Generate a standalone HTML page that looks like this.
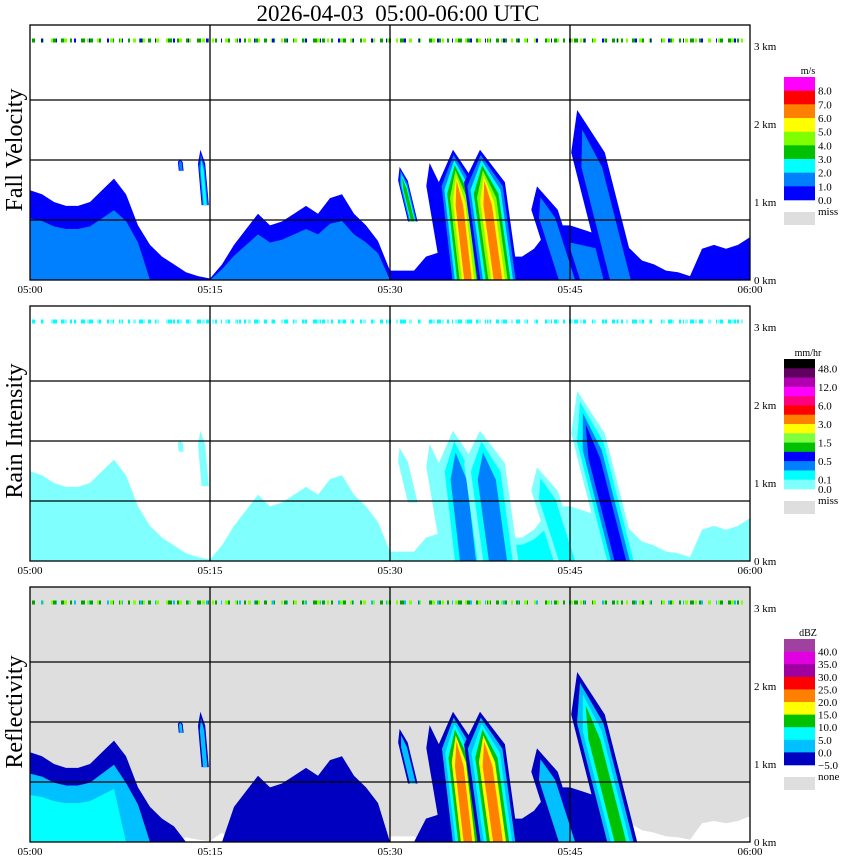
<!DOCTYPE html>
<html><head><meta charset="utf-8"><style>
html,body{margin:0;padding:0;background:#fff;}
svg{display:block;font-family:"Liberation Serif",serif;}
</style></head><body>
<svg id="chart" width="850" height="868" viewBox="0 0 850 868" xmlns="http://www.w3.org/2000/svg">
<text x="398" y="21" font-size="23" text-anchor="middle">2026-04-03&#160;&#160;05:00-06:00&#160;UTC</text>
<g id="panels"></g>
</svg>
<script>
// ---- data (per-minute, 05:00..06:00) ----
const lowTop = [1.15,1.1,1.0,0.95,0.95,1.0,1.15,1.3,1.1,0.7,0.45,0.3,0.2,0.1,0.05,0.02,0.2,0.45,0.65,0.85,0.7,0.75,0.85,0.95,0.85,1.05,1.1,0.85,0.7,0.5,0.12,0.12,0.12,0.3,0.35,0.35,0.3,0.3,0.3,0.3,0.3,0.3,0.4,0.6,0.7,0.7,0.65,0.6,0.6,0.5,0.4,0.25,0.2,0.12,0.1,0.05,0.4,0.45,0.4,0.45,0.55];
const lowVel = [1.2,1.2,1.2,1.2,1.2,1.2,1.2,1.2,1.2,1.2,0.8,0.8,0.8,0.8,0.8,0.8,1.6,1.6,1.6,1.6,1.6,1.6,1.6,1.6,1.6,1.6,1.6,1.6,1.6,1.6,0.8,0.8,0.8,0.8,0.8,0.8,0.8,0.8,0.8,0.8,0.8,0.8,0.8,0.8,0.8,1.2,1.2,1.2,1.2,0.8,0.8,0.8,0.8,0.8,0.8,0.8,0.8,0.8,0.8,0.8,0.8];
const lowRain = [0.05,0.05,0.05,0.05,0.05,0.05,0.05,0.05,0.05,0.05,0.05,0.05,0.05,0.05,0.05,0.05,0.05,0.05,0.05,0.05,0.05,0.05,0.05,0.05,0.05,0.05,0.05,0.05,0.05,0.05,0.05,0.05,0.05,0.05,0.05,0.05,0.1,0.1,0.1,0.1,0.1,0.1,0.1,0.1,0.1,0.05,0.05,0.05,0.05,0.05,0.05,0.05,0.05,0.05,0.05,0.05,0.05,0.05,0.05,0.05,0.05];
const lowRefl = [8,8,8,8,8,8,8,8,3,3,-3,-3,-3,-8,-8,-8,-8,-3,-3,-3,-2,-2,-2,-2,-2,-2,-2,-2,-2,-2,-8,-8,-8,-3,-3,-3,-2,-2,-2,-2,-2,-2,-2,-2,-2,-2,-2,-2,-2,-8,-8,-8,-8,-8,-8,-8,-6,-6,-6,-6,-6];
// streaks: minute at top, km at top, minute at base, km at base, width (min)
const streakTopMin = [30.8,33.3,35.25,37.5,42.25,45.6,14.2,12.5];
const streakTopKm  = [1.45,1.5,1.67,1.67,1.2,2.18,1.67,1.55];
const streakBotMin = [31.9,34.6,36.5,39.0,44.75,49.2,14.6,12.6];
const streakBotKm  = [0.75,0.32,0,0,0,0,0.96,1.4];
const streakWidth  = [0.8,1.2,3.0,3.4,2.2,2.8,0.6,0.4];
const streakVel    = [3.5,0.8,6.8,6.5,1.5,1.8,2.5,1.5];
const streakRain   = [0.05,0.05,0.4,0.4,0.2,0.6,0.05,0.05];
const streakRefl   = [3,-3,22,20,3,14,2,1];
const xTicks = ["05:00","05:15","05:30","05:45","06:00"];
const kmTicks = ["0 km","1 km","2 km","3 km"];

const velThr = [0,1,2,3,4,5,6,7,8], velCol = ['#0000ff','#0080ff','#00ffff','#00c000','#80ff00','#ffff00','#ff8000','#ff0000','#ff00ff'];
const rainThr = [0,0.1,0.25,0.5,1,1.5,2,3,4.5,6,9,12,24,48], rainCol = ['#80ffff','#00ffff','#0080ff','#0000ff','#00c000','#80ff40','#ffff00','#ff8000','#ff0000','#ff0080','#ff00ff','#b000b0','#600060','#000000'];
const reflThr = [-5,0,5,10,15,20,25,30,35,40], reflCol = ['#0000c0','#00c0ff','#00ffff','#00c000','#ffff00','#ff8000','#ff0000','#a000a0','#e000e0','#a040a0'];

const NS = 'http://www.w3.org/2000/svg';
const X0 = 30, X1 = 750, PXMIN = 12, PXKM = 78;
const X = m => X0 + m * PXMIN;
function mk(tag, attrs, parent){ const e = document.createElementNS(NS, tag); for (const k in attrs) e.setAttribute(k, attrs[k]); parent.appendChild(e); return e; }

const panels = [
  {name:'fall-velocity', title:'Fall Velocity', top:25, bg:'#ffffff', base:null, thr:velThr, col:velCol, low:lowVel, sv:streakVel, flick:['#00a000','#80ff00','#0000ff'],
   unit:'m/s', legTop:77, legH:123, legLabels:['8.0','7.0','6.0','5.0','4.0','3.0','2.0','1.0','0.0'], legRows:velCol.slice().reverse(), missLabel:'miss'},
  {name:'rain-intensity', title:'Rain Intensity', top:306, bg:'#ffffff', base:null, thr:rainThr, col:rainCol, low:lowRain, sv:streakRain, flick:['#00ffff','#80ffff','#00ffff'],
   unit:'mm/hr', legTop:359, legH:130, missLabel:'miss'},
  {name:'reflectivity', title:'Reflectivity', top:587, bg:'#dedede', base:'#ffffff', thr:reflThr, col:reflCol, low:lowRefl, sv:streakRefl, flick:['#00a000','#80ff00','#00c0ff'],
   unit:'dBZ', legTop:639, legH:126, legLabels:['40.0','35.0','30.0','25.0','20.0','15.0','10.0','5.0','0.0','\u22125.0'], legRows:reflCol.slice().reverse(), missLabel:'none'}
];
const root = document.getElementById('panels');

panels.forEach((p, pi) => {
  const g = mk('g', {}, root);
  
  
  const G = p.top + 255;
  const Y = h => G - h * PXKM;
  const cid = 'clip' + pi;
  const cp = mk('clipPath', {id: cid}, g);
  mk('rect', {x: X0, y: p.top, width: X1 - X0, height: 255}, cp);
  const bg = mk('rect', {x: X0, y: p.top, width: X1 - X0, height: 255, fill: p.bg}, g);
  
  
  const dg = mk('g', {'clip-path': 'url(#' + cid + ')'}, g);
  
  
  const nOf = v => p.thr.filter(t => v >= t).length;
  // low-level echo
  if (p.base) {
    let pts = [];
    lowTop.forEach((h, i) => { const hh = p.low[i] < p.thr[0] ? h * 0.6 : 0; pts.push(X(i) + ',' + Y(hh)); });
    const poly = mk('polygon', {points: X(0) + ',' + G + ' ' + pts.join(' ') + ' ' + X(60) + ',' + G, fill: p.base}, dg);
    
    
  }
  const maxN = Math.max(...p.low.map(nOf));
  for (let k = 0; k < maxN; k++) {
    let pts = [];
    lowTop.forEach((h, i) => { const n = nOf(p.low[i]); const f = k < n ? 1 - k / (n + 1.2) : 0; pts.push(X(i) + ',' + Y(h * f)); });
    const poly = mk('polygon', {points: X(0) + ',' + G + ' ' + pts.join(' ') + ' ' + X(60) + ',' + G, fill: p.col[k]}, dg);
    
    
  }
  // streaks
  streakTopMin.forEach((tm, s) => {
    const v = p.sv[s];
    let n = nOf(v);
    const xt = X(tm), yt = Y(streakTopKm[s]), xb = X(streakBotMin[s]), yb = Y(streakBotKm[s]);
    const L = yb - yt;
    if (n === 0 && p.base) {
      const hw = streakWidth[s] * PXMIN / 2;
      const poly = mk('polygon', {points: [[xt,yt],[xt+hw,yt+0.25*L],[xb+hw,yb],[xb-hw,yb],[xt-hw,yt+0.25*L]].map(q => q.join(',')).join(' '), fill: p.base}, dg);
      
      
    }
    for (let k = 0; k < n; k++) {
      const f = 1 - k / (n + 0.6);
      const xtk = xt + (1 - f) * (xb - xt) * 0.3, ytk = yt + (1 - f) * L * 0.3;
      const hw = streakWidth[s] * PXMIN / 2 * f;
      const tp = 0.25 * (yb - ytk);
      const xm = xtk + (xb - xtk) * 0.25;
      const poly = mk('polygon', {points: [[xtk,ytk],[xm+hw,ytk+tp],[xb+hw,yb],[xb-hw,yb],[xm-hw,ytk+tp]].map(q => q.join(',')).join(' '), fill: p.col[k]}, dg);
      
      
    }
  });
  // flicker row near 3 km
  const fy = Y(3.07);
  [['3 6 2 9 4 5', 0], ['2 11 3 7', 4], ['1 17 2 13', 9]].forEach((d, j) => {
    const l = mk('line', {x1: X0 + 2, x2: X1 - 2, y1: fy, y2: fy, stroke: p.flick[j], 'stroke-width': 4, 'stroke-dasharray': d[0], 'stroke-dashoffset': d[1]}, dg);
    
    
  });
  // grid
  [1, 2, 3].forEach(i => {
    const vl = mk('line', {x1: X(i * 15), x2: X(i * 15), y1: p.top, y2: G, stroke: '#000', 'stroke-width': 1.3}, g);
    
    
    const hl = mk('line', {x1: X0, x2: X1, y1: G - 60 * i, y2: G - 60 * i, stroke: '#000', 'stroke-width': 1.3}, g);
    
    
  });
  const fr = mk('rect', {x: X0, y: p.top, width: X1 - X0, height: 255, fill: 'none', stroke: '#000', 'stroke-width': 1.3}, g);
  
  
  // axis labels
  xTicks.forEach((t, i) => {
    const tx = mk('text', {x: X(i * 15), y: G + 13, 'font-size': 11, 'text-anchor': 'middle'}, g);
    tx.textContent = t;
    
    
  });
  kmTicks.forEach((t, i) => {
    const tx = mk('text', {x: 754, y: Y(i) + 4, 'font-size': 11}, g);
    tx.textContent = t;
    
    
  });
  const yt = mk('text', {x: 0, y: 0, 'font-size': 24, 'text-anchor': 'middle', transform: 'translate(22,' + (p.top + 125) + ') rotate(-90)'}, g);
  yt.textContent = p.title;
  
  
  // legend
  const lg = mk('g', {}, g);
  
  
  const ut = mk('text', {x: 808, y: p.legTop - 3, 'font-size': 10, 'text-anchor': 'middle'}, lg);
  ut.textContent = p.unit;
  
  
  const rows = pi === 1 ? rainCol.slice().reverse() : p.legRows;
  const rh = p.legH / rows.length;
  rows.forEach((c, r) => {
    const rr = mk('rect', {x: 784, y: p.legTop + r * rh, width: 31, height: rh + 0.3, fill: c}, lg);
    
    
  });
  let labs;
  if (pi === 1) labs = [['48.0',1],['12.0',3],['6.0',5],['3.0',7],['1.5',9],['0.5',11],['0.1',13],['0.0',14]];
  else labs = p.legLabels.map((l, r) => [l, r + 1]);
  labs.forEach(([l, b]) => {
    const tx = mk('text', {x: 818, y: p.legTop + b * rh + 4, 'font-size': 11}, lg);
    tx.textContent = l;
    
    
  });
  const my = p.legTop + p.legH + 12;
  const mr = mk('rect', {x: 784, y: my, width: 31, height: 13, fill: '#dedede'}, lg);
  
  
  const mt = mk('text', {x: 818, y: my + 3, 'font-size': 11}, lg);
  mt.textContent = p.missLabel;
  
  
});
</script>
</body></html>
